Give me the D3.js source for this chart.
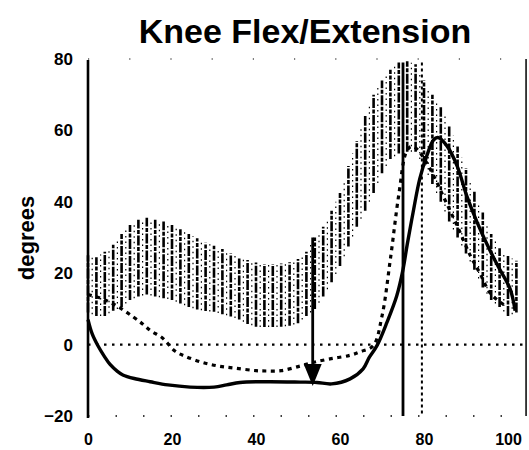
<!DOCTYPE html>
<html>
<head>
<meta charset="utf-8">
<script src="https://cdn.jsdelivr.net/npm/d3@7"></script>
<style>
  body { margin: 0; background: #fff; }
  text { font-family: "Liberation Sans", Arial, sans-serif; font-weight: bold; }
</style>
</head>
<body>
<svg id="chart" width="529" height="450"></svg>
<script>
// normal range band (x = % gait cycle, low / high in degrees)
var bandX    = [0, 2, 4, 6, 8, 10, 12, 14, 16, 18, 20, 22, 24, 26, 28, 30, 32, 34, 36, 38, 40, 42, 44, 46, 48, 50,
                52, 54, 56, 58, 60, 62, 64, 66, 68, 70, 72, 74, 76, 78, 80, 82, 84, 86, 88, 90, 92, 94, 96, 98, 100, 102];
var bandLow  = [9, 8, 8, 9.5, 10.5, 12.5, 13.5, 14, 13.5, 13, 12.5, 11.5, 10.5, 9.8, 9.4, 9.2, 8.5, 7.9, 7, 5.8, 5, 4.9, 4.9, 5, 5.3, 6,
                8, 10, 13.5, 17.5, 22, 27.5, 33, 37.5, 42.5, 48, 52, 53.5, 54, 54, 50, 45, 40, 34.5, 30, 25.5, 21, 16, 12.5, 10.5, 8, 9];
var bandHigh = [25, 24.5, 26, 28, 31, 33.5, 35, 35.5, 35, 34.5, 33.5, 32.3, 31, 29.8, 28.5, 27.7, 26.8, 25.5, 24.4, 23.7, 23, 22.6, 22.6, 22.7, 23.1, 24,
                26, 30, 33, 37.5, 42.5, 50, 57, 64, 70, 74, 77, 79, 79.4, 78.5, 74, 70, 66.5, 61.5, 55.5, 49.5, 43, 37, 31, 27, 24.8, 23.5];

// patient curve (solid)
var patientX = [0, 1, 2.4, 4, 5.2, 7, 8.3, 11, 14.8, 19, 24.3, 30, 33, 36.2, 42.6, 50.5, 54.5, 58, 62.4, 65.5, 67, 68.8, 71.2,
                73.5, 75, 76, 77.4, 79, 80.7, 82.2, 83.3, 85.5, 87.9, 90.2, 92.6, 95.2, 97.6, 100.5, 101.7];
var patientY = [7, 3, -0.4, -3.5, -5.5, -7.5, -8.5, -9.5, -10.4, -11.3, -11.9, -11.9, -11.3, -10.6, -10.4, -10.5, -10.6, -11, -9.6, -6.8, -3.5, -0.3, 6.3,
                13.6, 21, 28, 37, 46.5, 53, 57.2, 58, 55.6, 50, 41.6, 34.4, 27.6, 22, 15.6, 9.5];

// second curve (dashed)
var dashedX = [0, 3, 6.9, 10.7, 13, 15, 17.6, 20.7, 23, 27, 31, 35, 40, 42.6, 46, 50.5, 53.6, 57.6, 62.4, 64.8, 67.9,
               70, 72, 74, 75.8, 77, 78.3, 79.8, 82, 85, 88, 91, 93.3, 95.7, 98, 100];
var dashedY = [14, 13, 10.8, 7.8, 5.8, 3.8, 2, -1.8, -3.2, -4.9, -6, -6.6, -7.3, -7.4, -7.3, -6, -5, -4, -3, -2, -0.3,
               8, 24, 42, 54, 55.5, 54.8, 52.5, 48, 40.5, 33, 25, 20, 14.5, 12, 10.5];

// event markers
var toeOffSolid = 75;
var toeOffDashed = 79.5;
var arrowX = 53.5;
var arrowFrom = 30;
var arrowTo = -11.6;

var xTicks = [0, 20, 40, 60, 80, 100];
var yTicks = [-20, 0, 20, 40, 60, 80];
var frameRight = 104.3;

var svg = d3.select("#chart");

var x = d3.scaleLinear().domain([0, 100]).range([88, 508]);
var y = d3.scaleLinear().domain([-20, 80]).range([416, 59]);

svg.append("text")
    .attr("x", 305)
    .attr("y", 43)
    .attr("text-anchor", "middle")
    .style("font-size", "34px")
    .text("Knee Flex/Extension");

svg.append("text")
    .attr("transform", "translate(34, 238) rotate(-90)")
    .attr("text-anchor", "middle")
    .style("font-size", "22px")
    .text("degrees");

// band: vertical hatch bars
var band = svg.append("g");
band.selectAll("line.heavy")
    .data(bandX)
    .enter()
    .append("line")
        .attr("class", "heavy")
        .attr("x1", function(d) { return x(d); })
        .attr("x2", function(d) { return x(d); })
        .attr("y1", function(d, i) { return y(bandLow[i]); })
        .attr("y2", function(d, i) { return y(bandHigh[i]); })
        .attr("stroke", "#000")
        .attr("stroke-width", 2.6)
        .attr("stroke-dasharray", "10,1.5,4,1.5");

band.selectAll("line.light")
    .data(bandX.slice(0, -1))
    .enter()
    .append("line")
        .attr("class", "light")
        .attr("x1", function(d) { return x(d + 1); })
        .attr("x2", function(d) { return x(d + 1); })
        .attr("y1", function(d, i) { return y((bandLow[i] + bandLow[i + 1]) / 2); })
        .attr("y2", function(d, i) { return y((bandHigh[i] + bandHigh[i + 1]) / 2); })
        .attr("stroke", "#000")
        .attr("stroke-width", 1.2)
        .attr("stroke-dasharray", "1.5,4");

// frame
svg.append("line")
    .attr("x1", x(0)).attr("x2", x(frameRight))
    .attr("y1", y(-20)).attr("y2", y(-20))
    .attr("stroke", "#000").attr("stroke-width", 1.5)
    .attr("stroke-dasharray", "1.5,26");
svg.append("line")
    .attr("x1", x(0)).attr("x2", x(frameRight))
    .attr("y1", y(80)).attr("y2", y(80))
    .attr("stroke", "#000").attr("stroke-width", 1.2)
    .attr("stroke-dasharray", "1.2,40");
svg.append("line")
    .attr("x1", x(frameRight)).attr("x2", x(frameRight))
    .attr("y1", y(80)).attr("y2", y(-20))
    .attr("stroke", "#000").attr("stroke-width", 1.5);

// zero line
svg.append("line")
    .attr("x1", x(0)).attr("x2", x(frameRight))
    .attr("y1", y(0)).attr("y2", y(0))
    .attr("stroke", "#000").attr("stroke-width", 2.2)
    .attr("stroke-dasharray", "2.5,5.5");

// toe-off lines
svg.append("line")
    .attr("x1", x(toeOffSolid)).attr("x2", x(toeOffSolid))
    .attr("y1", y(79)).attr("y2", y(-20))
    .attr("stroke", "#000").attr("stroke-width", 2.8);
svg.append("line")
    .attr("x1", x(toeOffDashed)).attr("x2", x(toeOffDashed))
    .attr("y1", y(79)).attr("y2", y(-20))
    .attr("stroke", "#000").attr("stroke-width", 2)
    .attr("stroke-dasharray", "3,3");

var line = d3.line()
    .x(function(d) { return x(d[0]); })
    .y(function(d) { return y(d[1]); })
    .curve(d3.curveCatmullRom);

svg.append("path")
    .datum(d3.zip(dashedX, dashedY))
    .attr("d", line)
    .attr("fill", "none")
    .attr("stroke", "#000")
    .attr("stroke-width", 3.2)
    .attr("stroke-dasharray", "4,4.5");

svg.append("path")
    .datum(d3.zip(patientX, patientY))
    .attr("d", line)
    .attr("fill", "none")
    .attr("stroke", "#000")
    .attr("stroke-width", 3.4);

// arrow
svg.append("line")
    .attr("x1", x(arrowX)).attr("x2", x(arrowX))
    .attr("y1", y(arrowFrom)).attr("y2", y(arrowTo) - 18)
    .attr("stroke", "#000").attr("stroke-width", 2.8);
svg.append("path")
    .attr("d", "M" + (x(arrowX) - 9) + "," + (y(arrowTo) - 22) +
               "L" + (x(arrowX) + 9) + "," + (y(arrowTo) - 22) +
               "L" + x(arrowX) + "," + y(arrowTo) + "Z")
    .attr("fill", "#000");

// axes
var yAxis = svg.append("g")
    .attr("transform", "translate(" + x(0) + ",0)")
    .call(d3.axisLeft(y).tickValues(yTicks).tickSize(0).tickPadding(15));
yAxis.select(".domain").attr("stroke-width", 2.6).attr("d", "M0," + (y(80) + 1) + "V" + (y(-20) + 2));
yAxis.selectAll("text").style("font-size", "17px").attr("fill", "#000");

var xAxis = svg.append("g")
    .attr("transform", "translate(0," + y(-20) + ")")
    .call(d3.axisBottom(x).tickValues(xTicks).tickSize(0).tickPadding(18));
xAxis.select(".domain").remove();
xAxis.selectAll("text").style("font-size", "16px").attr("fill", "#000");
</script>
</body>
</html>
